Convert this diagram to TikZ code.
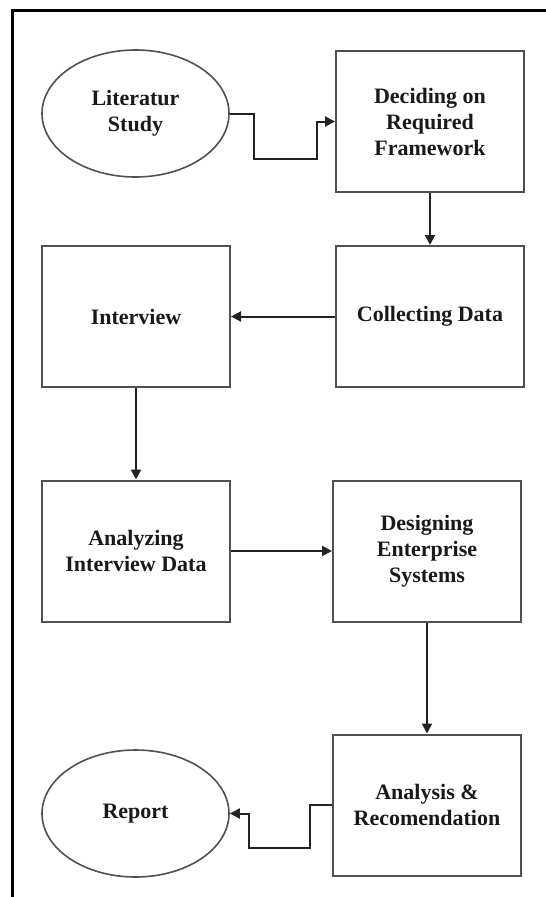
\documentclass[tikz,border=0pt]{standalone}
\usepackage{fontspec}
\setmainfont{Liberation Serif}
\usepackage{tikz}
\usetikzlibrary{arrows.meta,positioning,shapes.geometric}
\definecolor{stepline}{RGB}{80,80,80}
\definecolor{arrowline}{RGB}{35,35,35}

\begin{document}
\begin{tikzpicture}[
  x=1pt, y=-1pt,
  every node/.style={font=\bfseries\fontsize{22}{26}\selectfont, text=black!90},
  stepbox/.style={draw=stepline, line width=2pt, minimum width=188pt, minimum height=141pt, align=center, inner sep=0pt},
  endpoint/.style={ellipse, draw=stepline, line width=1.6pt, minimum width=187pt, minimum height=127pt, align=center, inner sep=0pt},
  arr/.style={-{Triangle[length=10pt,width=10pt]}, line width=2pt, color=arrowline}
]
  \useasboundingbox (0,0) rectangle (546,897);
  % outer frame (only top and left edge visible)
  \draw[line width=3pt] (12,897) -- (12,10) -- (546,10);

  \node[endpoint] (lit)      at (135.5,113.5) {Literatur\\Study};
  \node[stepbox]  (decide)   at (430,121.5)   {Deciding on\\Required\\Framework};
  \node[stepbox]  (collect)  at (430,316.5)   {Collecting Data};
  \node[stepbox]  (interview) at (136,316.5)  {Interview};
  \node[stepbox]  (analyze)  at (136,551)     {Analyzing\\Interview Data};
  \node[stepbox]  (design)   at (427,551)     {Designing\\Enterprise\\Systems};
  \node[stepbox]  (recom)    at (427,805)     {Analysis \&\\Recomendation};
  \node[endpoint] (report)   at (135.5,813.5) {Report};

  \draw[arr] (lit.east) -- ++(24,0) -- ++(0,45) -- ++(63,0) |- (decide.west);
  \draw[arr] (decide) -- (collect);
  \draw[arr] (collect) -- (interview);
  \draw[arr] (interview) -- (analyze);
  \draw[arr] (analyze) -- (design);
  \draw[arr] (design) -- (recom);
  \draw[arr] (recom.west) -- ++(-22,0) -- ++(0,43) -- ++(-61,0) |- (report.east);
\end{tikzpicture}
\end{document}
